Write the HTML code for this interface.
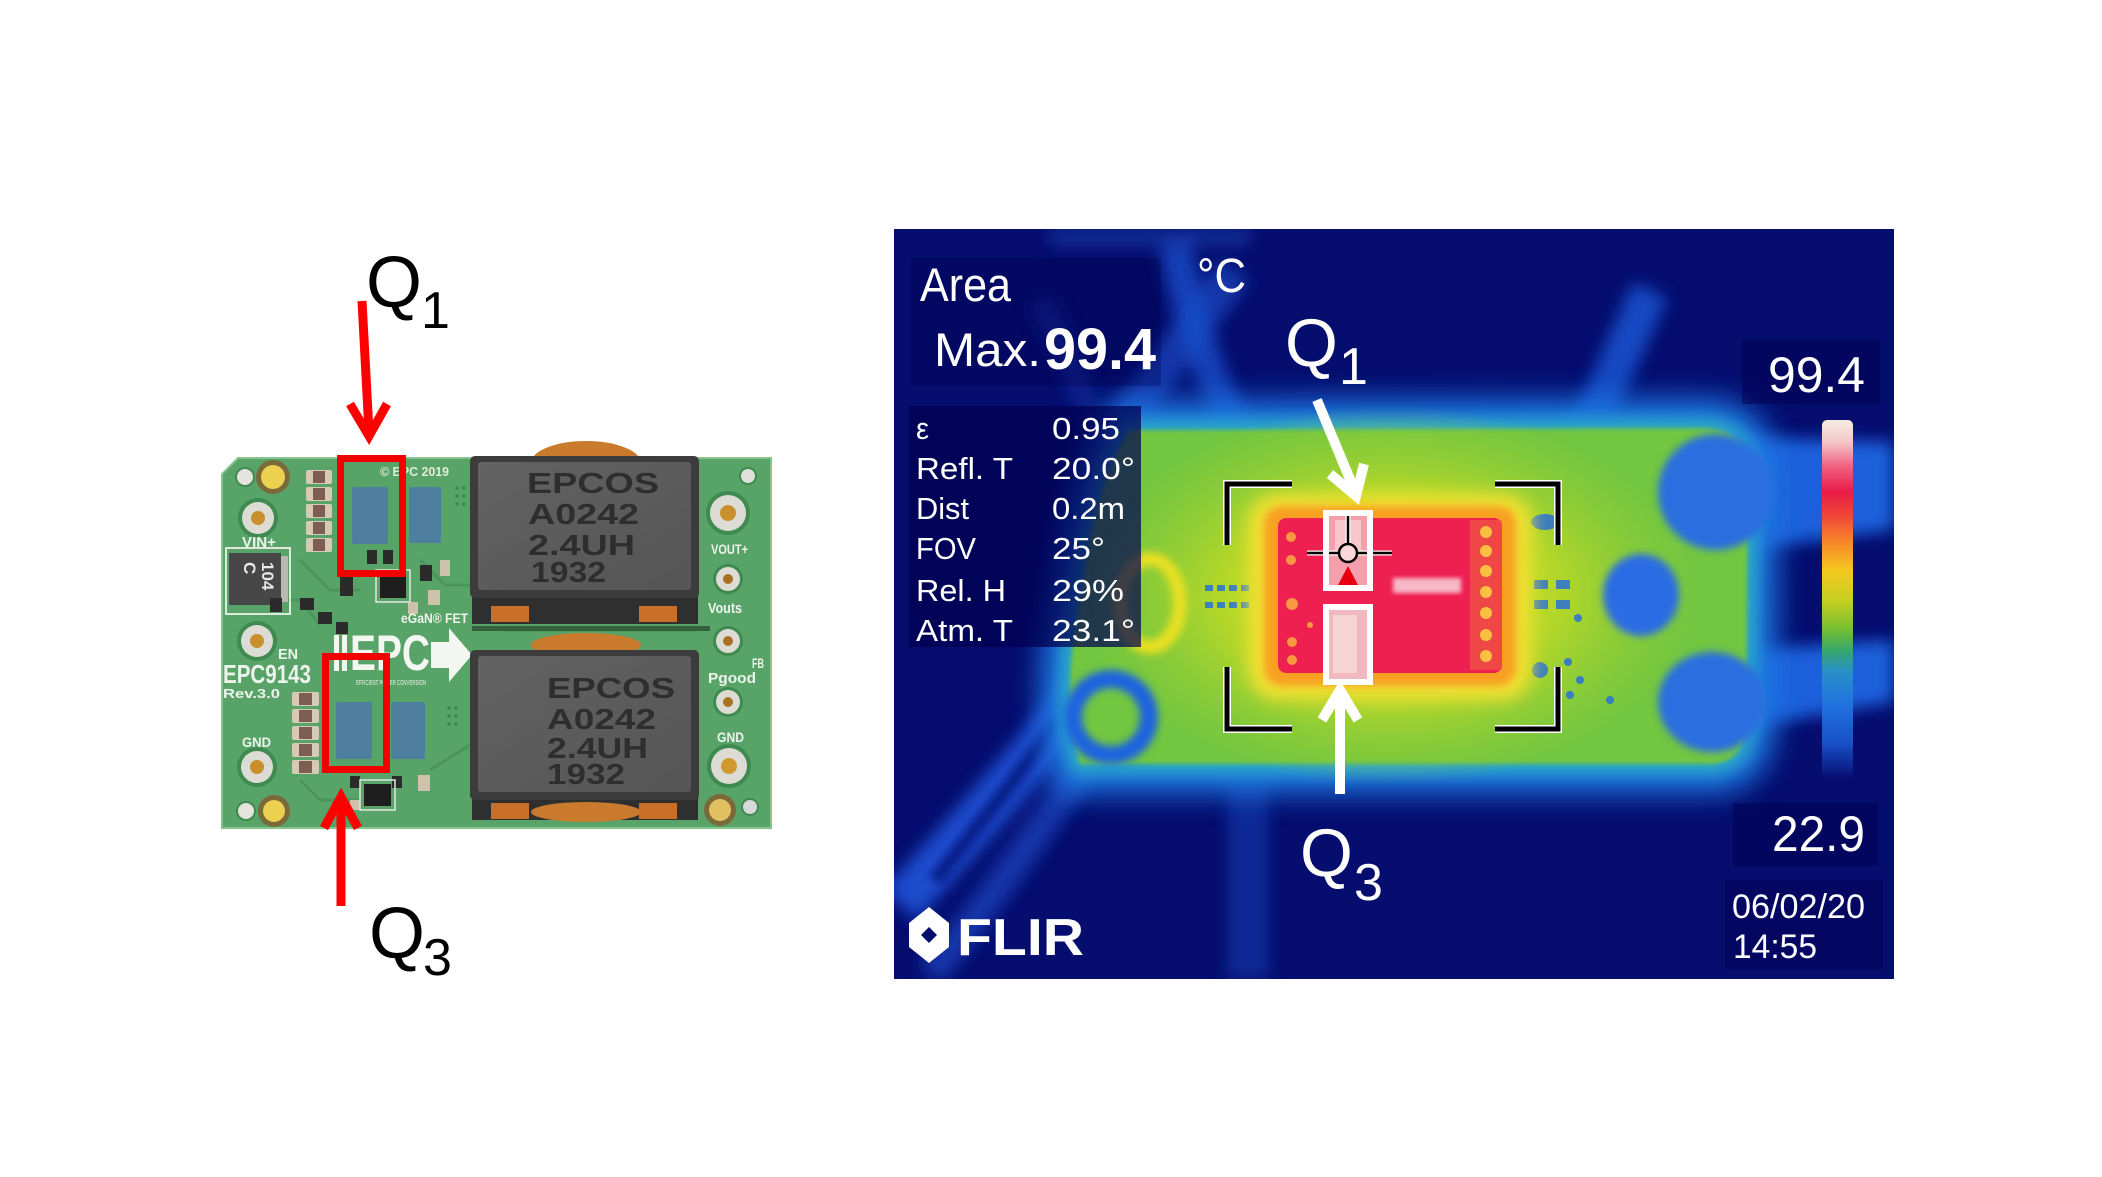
<!DOCTYPE html>
<html><head><meta charset="utf-8">
<style>
html,body{margin:0;padding:0;background:#fff;}
body{width:2102px;height:1177px;overflow:hidden;position:relative;}
svg{position:absolute;left:0;top:0;}
text{font-family:"Liberation Sans",Arial,sans-serif;}
</style></head><body>
<svg width="2102" height="1177" viewBox="0 0 2102 1177" xmlns="http://www.w3.org/2000/svg">
<defs>
 <filter id="b2" x="-20%" y="-20%" width="140%" height="140%"><feGaussianBlur stdDeviation="2"/></filter>
 <filter id="b4" x="-30%" y="-30%" width="160%" height="160%"><feGaussianBlur stdDeviation="4"/></filter>
 <filter id="b8" x="-30%" y="-30%" width="160%" height="160%"><feGaussianBlur stdDeviation="8"/></filter>
 <filter id="b14" x="-30%" y="-30%" width="160%" height="160%"><feGaussianBlur stdDeviation="14"/></filter>
 <linearGradient id="cbar" x1="0" y1="0" x2="0" y2="1">
  <stop offset="0" stop-color="#f6ece4"/>
  <stop offset="0.06" stop-color="#f4c8c8"/>
  <stop offset="0.13" stop-color="#f06080"/>
  <stop offset="0.2" stop-color="#e81c48"/>
  <stop offset="0.27" stop-color="#f04838"/>
  <stop offset="0.34" stop-color="#f88828"/>
  <stop offset="0.42" stop-color="#f4c820"/>
  <stop offset="0.5" stop-color="#c8d020"/>
  <stop offset="0.58" stop-color="#78c030"/>
  <stop offset="0.64" stop-color="#38a868"/>
  <stop offset="0.7" stop-color="#2890c8"/>
  <stop offset="0.8" stop-color="#2070e0"/>
  <stop offset="0.9" stop-color="#1850c8"/>
  <stop offset="1" stop-color="#060c70"/>
 </linearGradient>
 <radialGradient id="yel" cx="0.5" cy="0.5" r="0.5">
  <stop offset="0" stop-color="#ecea18" stop-opacity="1"/>
  <stop offset="0.55" stop-color="#c8dc22" stop-opacity="0.75"/>
  <stop offset="1" stop-color="#a0d030" stop-opacity="0"/>
 </radialGradient>
 <linearGradient id="ind" x1="0" y1="0" x2="1" y2="1">
  <stop offset="0" stop-color="#626262"/>
  <stop offset="1" stop-color="#555555"/>
 </linearGradient>
 <clipPath id="tc"><rect x="894" y="229" width="1000" height="750"/></clipPath>
</defs>

<!-- ================= PCB PHOTO ================= -->
<ellipse cx="586" cy="463" rx="55" ry="22" fill="#c97a2c"/>
<path d="M238,458 H771 V828 H222 V474 Z" fill="#58a368" stroke="#86c48e" stroke-width="2"/>
<g stroke="#4c945c" stroke-width="3" fill="none">
 <path d="M300,560 L330,590 L360,590"/>
 <path d="M240,600 L300,600 L320,625"/>
 <path d="M420,560 L445,585 L470,585"/>
 <path d="M430,770 L470,745"/>
 <path d="M300,780 L320,800 L360,800"/>
 <path d="M500,630 L700,630"/>
</g>
<circle cx="245" cy="477" r="10" fill="#3f8a50"/><circle cx="245" cy="477" r="8" fill="#e4e4dc"/>
<circle cx="273" cy="477" r="17" fill="#7a6a3a"/><circle cx="273" cy="477" r="12" fill="#ecd050"/>
<circle cx="246" cy="811" r="10" fill="#3f8a50"/><circle cx="246" cy="811" r="8" fill="#e4e4dc"/>
<circle cx="274" cy="811" r="16" fill="#7a6a3a"/><circle cx="274" cy="811" r="11" fill="#ecd050"/>
<circle cx="720" cy="810" r="16" fill="#7a6a3a"/><circle cx="720" cy="810" r="11" fill="#e0c060"/>
<circle cx="750" cy="807" r="9" fill="#3f8a50"/><circle cx="750" cy="807" r="7" fill="#d8d8d8"/>
<circle cx="748" cy="476" r="9" fill="#3f8a50"/><circle cx="748" cy="476" r="7" fill="#e0e0dc"/>
<g>
 <circle cx="258" cy="518" r="20" fill="#3f8a50"/><circle cx="258" cy="518" r="16" fill="#dcdcd4"/><circle cx="258" cy="518" r="7" fill="#c8902c"/>
 <circle cx="257" cy="641" r="20" fill="#3f8a50"/><circle cx="257" cy="641" r="16" fill="#dcdcd4"/><circle cx="257" cy="641" r="7" fill="#c8902c"/>
 <circle cx="257" cy="767" r="20" fill="#3f8a50"/><circle cx="257" cy="767" r="16" fill="#dcdcd4"/><circle cx="257" cy="767" r="7" fill="#c8902c"/>
 <circle cx="728" cy="513" r="22" fill="#3f8a50"/><circle cx="728" cy="513" r="18" fill="#dcdcd4"/><circle cx="728" cy="513" r="8" fill="#c8902c"/>
 <circle cx="728" cy="579" r="15" fill="#3f8a50"/><circle cx="728" cy="579" r="12" fill="#dcdcd4"/><circle cx="728" cy="579" r="5" fill="#a87020"/>
 <circle cx="728" cy="641" r="15" fill="#3f8a50"/><circle cx="728" cy="641" r="12" fill="#dcdcd4"/><circle cx="728" cy="641" r="5" fill="#a87020"/>
 <circle cx="728" cy="702" r="15" fill="#3f8a50"/><circle cx="728" cy="702" r="12" fill="#dcdcd4"/><circle cx="728" cy="702" r="5" fill="#a87020"/>
 <circle cx="729" cy="766" r="22" fill="#3f8a50"/><circle cx="729" cy="766" r="18" fill="#dcdcd4"/><circle cx="729" cy="766" r="8" fill="#d09a30"/>
</g>
<rect x="226" y="548" width="64" height="66" fill="none" stroke="#dfe8da" stroke-width="2"/>
<rect x="229" y="553" width="52" height="52" fill="#474747"/>
<rect x="281" y="556" width="7" height="46" fill="#b8b8b0"/>
<text x="0" y="0" transform="translate(262,562) rotate(90)" font-size="17" font-weight="bold" fill="#e8e8e8">104</text>
<text x="0" y="0" transform="translate(244,562) rotate(90)" font-size="17" font-weight="bold" fill="#e8e8e8">C</text>
<g>
 <g fill="#d6cab6"><rect x="306" y="470" width="26" height="14" rx="2"/><rect x="306" y="487" width="26" height="14" rx="2"/><rect x="306" y="504" width="26" height="14" rx="2"/><rect x="306" y="521" width="26" height="14" rx="2"/><rect x="306" y="538" width="26" height="14" rx="2"/></g>
 <g fill="#7d5e50"><rect x="313" y="471" width="12" height="12"/><rect x="313" y="488" width="12" height="12"/><rect x="313" y="505" width="12" height="12"/><rect x="313" y="522" width="12" height="12"/><rect x="313" y="539" width="12" height="12"/></g>
 <g fill="#d6cab6"><rect x="292" y="692" width="27" height="14" rx="2"/><rect x="292" y="709" width="27" height="14" rx="2"/><rect x="292" y="726" width="27" height="14" rx="2"/><rect x="292" y="743" width="27" height="14" rx="2"/><rect x="292" y="760" width="27" height="14" rx="2"/></g>
 <g fill="#7d5e50"><rect x="299" y="693" width="13" height="12"/><rect x="299" y="710" width="13" height="12"/><rect x="299" y="727" width="13" height="12"/><rect x="299" y="744" width="13" height="12"/><rect x="299" y="761" width="13" height="12"/></g>
</g>
<g fill="#2b2b2b">
 <rect x="367" y="550" width="10" height="14"/><rect x="383" y="550" width="10" height="14"/>
 <rect x="340" y="574" width="13" height="22"/><rect x="300" y="598" width="14" height="12"/>
 <rect x="318" y="612" width="14" height="12"/><rect x="336" y="622" width="12" height="12"/>
 <rect x="270" y="598" width="12" height="14"/><rect x="350" y="776" width="10" height="12"/>
 <rect x="392" y="776" width="10" height="12"/><rect x="420" y="565" width="12" height="16"/>
</g>
<g fill="#cfc2ac">
 <rect x="428" y="590" width="12" height="15"/><rect x="408" y="602" width="10" height="12"/>
 <rect x="418" y="775" width="12" height="16"/><rect x="350" y="800" width="10" height="10"/>
 <rect x="440" y="560" width="10" height="16"/>
</g>
<rect x="376" y="570" width="34" height="32" fill="none" stroke="#e0e8e0" stroke-width="1.5"/>
<rect x="380" y="574" width="26" height="24" fill="#1e1e1e"/>
<rect x="360" y="780" width="35" height="30" fill="none" stroke="#e0e8e0" stroke-width="1.5"/>
<rect x="364" y="784" width="27" height="22" fill="#1e1e1e"/>
<rect x="352" y="487" width="36" height="57" rx="2" fill="#4f7f9f"/>
<rect x="409" y="487" width="32" height="56" rx="2" fill="#4f7f9f"/>
<rect x="336" y="702" width="36" height="57" rx="2" fill="#4f7f9f"/>
<rect x="391" y="702" width="34" height="57" rx="2" fill="#4f7f9f"/>
<g fill="#3d8a4f">
 <circle cx="457" cy="488" r="1.8"/><circle cx="464" cy="488" r="1.8"/><circle cx="457" cy="496" r="1.8"/><circle cx="464" cy="496" r="1.8"/><circle cx="457" cy="504" r="1.8"/><circle cx="464" cy="504" r="1.8"/>
 <circle cx="449" cy="708" r="1.8"/><circle cx="456" cy="708" r="1.8"/><circle cx="449" cy="716" r="1.8"/><circle cx="456" cy="716" r="1.8"/><circle cx="449" cy="724" r="1.8"/><circle cx="456" cy="724" r="1.8"/>
</g>
<rect x="334" y="635" width="5" height="36" fill="#f4f6f2"/><rect x="342" y="635" width="5" height="36" fill="#f4f6f2"/>
<text x="350" y="670" font-size="50" font-weight="bold" fill="#f4f6f2" textLength="80" lengthAdjust="spacingAndGlyphs">EPC</text>
<polygon points="431,642 449,642 449,628 472,655 449,682 449,668 431,668" fill="#f4f6f2"/>
<text x="356" y="685" font-size="7" fill="#e8efe6" textLength="70" lengthAdjust="spacingAndGlyphs">EFFICIENT POWER CONVERSION</text>
<text x="401" y="623" font-size="14" font-weight="bold" fill="#eef3ec" textLength="67" lengthAdjust="spacingAndGlyphs">eGaN® FET</text>
<text x="380" y="476" font-size="13" font-weight="bold" fill="#e0ead8" textLength="69" lengthAdjust="spacingAndGlyphs">© EPC 2019</text>
<g fill="#eef3ec" font-weight="bold">
 <text x="242" y="547" font-size="15" textLength="34" lengthAdjust="spacingAndGlyphs">VIN+</text>
 <text x="278" y="659" font-size="15" textLength="20" lengthAdjust="spacingAndGlyphs">EN</text>
 <text x="223" y="683" font-size="26" textLength="88" lengthAdjust="spacingAndGlyphs">EPC9143</text>
 <text x="223" y="698" font-size="13" textLength="57" lengthAdjust="spacingAndGlyphs">Rev.3.0</text>
 <text x="242" y="747" font-size="14" textLength="29" lengthAdjust="spacingAndGlyphs">GND</text>
 <text x="711" y="554" font-size="14" textLength="37" lengthAdjust="spacingAndGlyphs">VOUT+</text>
 <text x="708" y="613" font-size="15" textLength="34" lengthAdjust="spacingAndGlyphs">Vouts</text>
 <text x="752" y="668" font-size="14" textLength="12" lengthAdjust="spacingAndGlyphs">FB</text>
 <text x="708" y="683" font-size="15" textLength="48" lengthAdjust="spacingAndGlyphs">Pgood</text>
 <text x="717" y="742" font-size="14" textLength="27" lengthAdjust="spacingAndGlyphs">GND</text>
</g>
<rect x="472" y="596" width="226" height="28" fill="#2f2f2f"/>
<rect x="491" y="606" width="38" height="16" fill="#c8702a"/>
<rect x="639" y="606" width="38" height="16" fill="#c8702a"/>
<rect x="472" y="626" width="238" height="5" fill="#355f3f"/>
<ellipse cx="586" cy="645" rx="55" ry="12" fill="#c97a2c"/>
<rect x="470" y="456" width="229" height="142" rx="5" fill="#3c3c3c"/>
<rect x="478" y="462" width="213" height="128" rx="3" fill="url(#ind)"/>
<g fill="#2e2e2e" font-weight="bold" font-size="29">
 <text x="527" y="493" textLength="132" lengthAdjust="spacingAndGlyphs">EPCOS</text>
 <text x="528" y="524" textLength="111" lengthAdjust="spacingAndGlyphs">A0242</text>
 <text x="528" y="555" textLength="107" lengthAdjust="spacingAndGlyphs">2.4UH</text>
 <text x="531" y="582" textLength="75" lengthAdjust="spacingAndGlyphs">1932</text>
</g>
<rect x="472" y="796" width="226" height="24" fill="#2f2f2f"/>
<ellipse cx="586" cy="812" rx="55" ry="10" fill="#c97a2c"/>
<rect x="491" y="803" width="38" height="16" fill="#c8702a"/>
<rect x="639" y="803" width="38" height="16" fill="#c8702a"/>
<rect x="470" y="650" width="229" height="150" rx="5" fill="#3c3c3c"/>
<rect x="478" y="656" width="213" height="136" rx="3" fill="url(#ind)"/>
<g fill="#2e2e2e" font-weight="bold" font-size="29">
 <text x="547" y="698" textLength="128" lengthAdjust="spacingAndGlyphs">EPCOS</text>
 <text x="547" y="729" textLength="109" lengthAdjust="spacingAndGlyphs">A0242</text>
 <text x="547" y="758" textLength="101" lengthAdjust="spacingAndGlyphs">2.4UH</text>
 <text x="547" y="784" textLength="78" lengthAdjust="spacingAndGlyphs">1932</text>
</g>
<rect x="340.5" y="458.5" width="62" height="115" fill="none" stroke="#f20000" stroke-width="7"/>
<rect x="325.5" y="656.5" width="61" height="113" fill="none" stroke="#f20000" stroke-width="7"/>
<g stroke="#ff0000" stroke-width="9" fill="none" stroke-linejoin="miter">
 <path d="M362,301 L369,432"/>
 <polyline points="350,404 369,436 387,404"/>
 <path d="M341,906 L341,800"/>
 <polyline points="324,828 341,797 358,828"/>
</g>
<text x="366" y="307" font-size="72" fill="#000">Q</text>
<text x="421" y="328" font-size="52" fill="#000">1</text>
<text x="369" y="958" font-size="72" fill="#000">Q</text>
<text x="423" y="975" font-size="52" fill="#000">3</text>

<!-- ================= THERMAL IMAGE ================= -->
<g clip-path="url(#tc)">
 <rect x="894" y="229" width="1000" height="750" fill="#050d6e"/>
 <g filter="url(#b8)">
  <rect x="1050" y="229" width="200" height="16" fill="#1a3fb0" opacity=".7"/>
  <path d="M1175,245 C1190,320 1210,380 1240,440" stroke="#1a52d0" stroke-width="32" fill="none" opacity=".75"/>
  <path d="M1235,270 C1200,320 1160,370 1125,425" stroke="#1a52d0" stroke-width="36" fill="none" opacity=".6"/>
  <path d="M1575,470 C1595,410 1620,360 1650,290" stroke="#1c58d8" stroke-width="38" fill="none" opacity=".8"/>
  <path d="M1040,300 C1060,340 1080,380 1090,420" stroke="#1440b8" stroke-width="24" fill="none" opacity=".4"/>
  <path d="M1716,436 L1894,442 L1894,530 L1780,545 L1716,552 Z" fill="#1c60dc"/>
  <path d="M1712,652 L1894,640 L1894,702 L1760,725 L1712,752 Z" fill="#1c60dc"/>
  <path d="M900,905 C960,840 1030,760 1085,690" stroke="#1a4ccc" stroke-width="46" fill="none"/>
  <path d="M930,975 C990,900 1040,830 1080,770" stroke="#163fb8" stroke-width="30" fill="none" opacity=".8"/>
  <rect x="1227" y="765" width="42" height="214" fill="#0e2fa0" opacity=".8"/>
 </g>
 <path d="M935,880 C990,810 1040,750 1070,700" stroke="#061070" stroke-width="14" fill="none" opacity=".7" filter="url(#b4)"/>
 <path d="M1130,430 L1705,428 Q1750,430 1748,480 L1746,720 Q1746,763 1710,764 L1080,764 Q1060,700 1080,600 Q1095,480 1130,430 Z" fill="none" stroke="#1f74e0" stroke-width="60" filter="url(#b14)"/>
 <path d="M1130,430 L1705,428 Q1750,430 1748,480 L1746,720 Q1746,763 1710,764 L1080,764 Q1060,700 1080,600 Q1095,480 1130,430 Z" fill="none" stroke="#2ab0c4" stroke-width="18" filter="url(#b8)"/>
 <path d="M1130,430 L1705,428 Q1750,430 1748,480 L1746,720 Q1746,763 1710,764 L1080,764 Q1060,700 1080,600 Q1095,480 1130,430 Z" fill="#72c640" filter="url(#b2)"/>
 <ellipse cx="1390" cy="595" rx="310" ry="190" fill="url(#yel)"/>
 <ellipse cx="1150" cy="603" rx="30" ry="44" fill="none" stroke="#e8e020" stroke-width="14" filter="url(#b4)"/>
 <circle cx="1111" cy="717" r="38" fill="none" stroke="#1e64e0" stroke-width="18" filter="url(#b4)"/>
 <g filter="url(#b4)">
  <ellipse cx="1716" cy="492" rx="58" ry="58" fill="#2a6ee0"/>
  <ellipse cx="1712" cy="702" rx="54" ry="50" fill="#2a6ee0"/>
  <ellipse cx="1641" cy="595" rx="38" ry="41" fill="#2a6ce4"/>
 </g>
 <g fill="#2a70d8" opacity=".85">
  <rect x="1205" y="585" width="8" height="6"/><rect x="1217" y="585" width="8" height="6"/><rect x="1229" y="585" width="8" height="6"/><rect x="1241" y="585" width="8" height="6"/>
  <rect x="1205" y="602" width="8" height="6"/><rect x="1217" y="602" width="8" height="6"/><rect x="1229" y="602" width="8" height="6"/><rect x="1241" y="602" width="8" height="6"/>
  <rect x="1534" y="580" width="14" height="9"/><rect x="1556" y="580" width="14" height="9"/>
  <rect x="1534" y="600" width="14" height="9"/><rect x="1556" y="600" width="14" height="9"/>
  <ellipse cx="1545" cy="522" rx="14" ry="8"/>
  <circle cx="1578" cy="618" r="4"/><circle cx="1540" cy="670" r="8"/><circle cx="1568" cy="662" r="4"/>
  <circle cx="1580" cy="680" r="4"/><circle cx="1570" cy="695" r="4"/><circle cx="1610" cy="700" r="4"/>
 </g>
 <rect x="1248" y="494" width="284" height="206" rx="30" fill="#f0e030" filter="url(#b8)"/>
 <rect x="1264" y="506" width="252" height="180" rx="18" fill="#f8a020" filter="url(#b4)"/>
 <rect x="1278" y="518" width="224" height="155" rx="8" fill="#ee2050"/>
 <rect x="1470" y="520" width="32" height="150" fill="#f06040" opacity=".6"/>
 <g fill="#f8c040"><circle cx="1486" cy="532" r="6"/><circle cx="1486" cy="551" r="6"/><circle cx="1486" cy="571" r="6"/><circle cx="1486" cy="592" r="6"/><circle cx="1486" cy="613" r="6"/><circle cx="1486" cy="635" r="6"/><circle cx="1486" cy="656" r="6"/></g>
 <g fill="#f89840"><circle cx="1291" cy="537" r="5"/><circle cx="1291" cy="560" r="5"/><circle cx="1292" cy="604" r="6"/><circle cx="1292" cy="642" r="5"/><circle cx="1292" cy="660" r="5"/><circle cx="1310" cy="625" r="3"/></g>
 <rect x="1393" y="578" width="68" height="15" fill="#f8b8c8" filter="url(#b2)"/>
 <rect x="1326" y="513" width="44" height="75" fill="#f4a0ac"/>
 <rect x="1335" y="520" width="26" height="30" fill="#f8d0d4" opacity=".8"/>
 <rect x="1326" y="607" width="44" height="75" fill="#f2b8c0"/>
 <rect x="1333" y="615" width="24" height="58" fill="#f8e0e0" opacity=".7"/>
 <g stroke="#fff" stroke-width="5" fill="none">
  <path d="M1307,553 H1338 M1358,553 H1392 M1348,513 V543"/>
 </g>
 <g stroke="#000" stroke-width="2.5" fill="none">
  <path d="M1307,553 H1338 M1358,553 H1392 M1348,513 V543"/>
 </g>
 <circle cx="1348" cy="553" r="9" fill="#f8d8d8" stroke="#000" stroke-width="2.5"/>
 <polygon points="1338,585 1358,585 1348,566" fill="#e80010"/>
 <rect x="1326" y="513" width="44" height="75" fill="none" stroke="#fff" stroke-width="6"/>
 <rect x="1326" y="607" width="44" height="75" fill="none" stroke="#fff" stroke-width="6"/>
 <g fill="none" stroke-linejoin="miter">
  <g stroke="#fff" stroke-width="8">
   <polyline points="1292,484 1227,484 1227,545"/><polyline points="1495,484 1558,484 1558,545"/>
   <polyline points="1227,667 1227,729 1292,729"/><polyline points="1558,667 1558,729 1495,729"/>
  </g>
  <g stroke="#000" stroke-width="5">
   <polyline points="1292,484 1227,484 1227,545"/><polyline points="1495,484 1558,484 1558,545"/>
   <polyline points="1227,667 1227,729 1292,729"/><polyline points="1558,667 1558,729 1495,729"/>
  </g>
 </g>
 <g stroke="#fff" stroke-width="10" fill="none" stroke-linejoin="miter">
  <path d="M1317,400 L1354,489"/>
  <polyline points="1330,474 1356,496 1364,464"/>
  <path d="M1340,794 L1340,694"/>
  <polyline points="1322,720 1340,690 1358,720"/>
 </g>
 <text x="1285" y="366" font-size="68" fill="#fff">Q</text>
 <text x="1339" y="384" font-size="52" fill="#fff">1</text>
 <text x="1300" y="876" font-size="68" fill="#fff">Q</text>
 <text x="1354" y="900" font-size="52" fill="#fff">3</text>
 <rect x="911" y="258" width="250" height="128" fill="#00004a" opacity=".3"/>
 <rect x="909" y="406" width="232" height="241" fill="#000050" opacity=".72"/>
 <rect x="1742" y="340" width="138" height="64" fill="#000050" opacity=".5"/>
 <rect x="1733" y="803" width="145" height="63" fill="#000050" opacity=".5"/>
 <rect x="1725" y="880" width="158" height="90" fill="#000050" opacity=".4"/>
 <rect x="1822" y="420" width="31" height="359" rx="5" fill="url(#cbar)"/>
 <g fill="#fff">
  <text x="920" y="301" font-size="47" textLength="91" lengthAdjust="spacingAndGlyphs">Area</text>
  <text x="934" y="366" font-size="47" textLength="107" lengthAdjust="spacingAndGlyphs">Max.</text>
  <text x="1044" y="369" font-size="58" font-weight="bold" textLength="112" lengthAdjust="spacingAndGlyphs">99.4</text>
  <text x="1197" y="292" font-size="48" textLength="49" lengthAdjust="spacingAndGlyphs">°C</text>
  <g font-size="31">
   <text x="916" y="439" textLength="13" lengthAdjust="spacingAndGlyphs">ε</text>
   <text x="916" y="479" textLength="97" lengthAdjust="spacingAndGlyphs">Refl. T</text>
   <text x="916" y="519" textLength="53" lengthAdjust="spacingAndGlyphs">Dist</text>
   <text x="916" y="559" textLength="60" lengthAdjust="spacingAndGlyphs">FOV</text>
   <text x="916" y="601" textLength="90" lengthAdjust="spacingAndGlyphs">Rel. H</text>
   <text x="916" y="641" textLength="97" lengthAdjust="spacingAndGlyphs">Atm. T</text>
   <text x="1052" y="439" textLength="68" lengthAdjust="spacingAndGlyphs">0.95</text>
   <text x="1052" y="479" textLength="83" lengthAdjust="spacingAndGlyphs">20.0°</text>
   <text x="1052" y="519" textLength="73" lengthAdjust="spacingAndGlyphs">0.2m</text>
   <text x="1052" y="559" textLength="53" lengthAdjust="spacingAndGlyphs">25°</text>
   <text x="1052" y="601" textLength="72" lengthAdjust="spacingAndGlyphs">29%</text>
   <text x="1052" y="641" textLength="83" lengthAdjust="spacingAndGlyphs">23.1°</text>
  </g>
  <text x="1768" y="392" font-size="50" textLength="97" lengthAdjust="spacingAndGlyphs">99.4</text>
  <text x="1772" y="851" font-size="50" textLength="93" lengthAdjust="spacingAndGlyphs">22.9</text>
  <text x="1732" y="918" font-size="34" textLength="133" lengthAdjust="spacingAndGlyphs">06/02/20</text>
  <text x="1733" y="958" font-size="34" textLength="84" lengthAdjust="spacingAndGlyphs">14:55</text>
  <text x="957" y="955" font-size="52" font-weight="bold" textLength="127" lengthAdjust="spacingAndGlyphs">FLIR</text>
 </g>
 <polygon points="929,907 949,923 949,947 929,963 909,947 909,923" fill="#fff"/>
 <polygon points="929,927 937,935 929,943 921,935" fill="#050d6e"/>
</g>
</svg>
</body></html>
